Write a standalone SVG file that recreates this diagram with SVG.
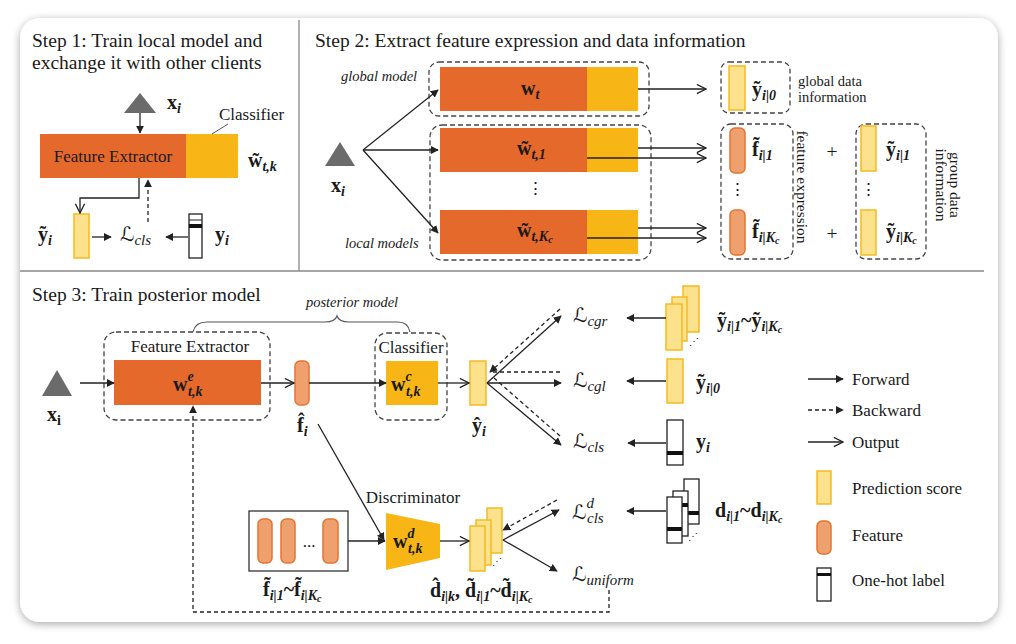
<svg xmlns="http://www.w3.org/2000/svg" width="1016" height="644" viewBox="0 0 1016 644">
<defs>
<filter id="sh" x="-5%" y="-5%" width="110%" height="110%">
<feGaussianBlur in="SourceAlpha" stdDeviation="4"/>
<feOffset dx="0" dy="2"/>
<feComponentTransfer><feFuncA type="linear" slope="0.35"/></feComponentTransfer>
<feMerge><feMergeNode/><feMergeNode in="SourceGraphic"/></feMerge>
</filter>
<marker id="fa" viewBox="0 0 10 10" refX="9" refY="5" markerWidth="8" markerHeight="8" markerUnits="userSpaceOnUse" orient="auto">
<path d="M0,0 L10,5 L0,10 Z" fill="#222"/>
</marker>
<marker id="oa" viewBox="0 0 12 12" refX="11" refY="6" markerWidth="11" markerHeight="11" markerUnits="userSpaceOnUse" orient="auto">
<path d="M1,1 L11,6 L1,11" fill="none" stroke="#222" stroke-width="1.4"/>
</marker>
</defs>
<style>
.t{font-family:"Liberation Serif","DejaVu Serif",serif;fill:#1a1a1a}
.h{font-size:19.5px}
.n{font-size:17px}
.s{font-size:14.5px}
.it{font-style:italic}
.mb{font-family:"Liberation Serif","DejaVu Serif",serif;font-weight:bold;font-size:20px;fill:#1a1a1a}
.sb{font-size:14px;font-style:italic;font-weight:bold}
.ss{font-size:10px;font-style:italic;font-weight:bold}
.L{font-family:"Liberation Serif","DejaVu Serif","DejaVu Sans",serif;font-style:italic;font-size:20px;fill:#1a1a1a}
.Ls{font-size:15px;font-style:italic}
.ln{stroke:#222;stroke-width:1.3;fill:none}
.dl{stroke:#222;stroke-width:1.3;fill:none;stroke-dasharray:4,3}
.db{stroke:#444;stroke-width:1.3;fill:none;stroke-dasharray:5,3}
.fe{fill:#E5692A}
.cl{fill:#F7B516}
.ps{fill:#FCE28C;stroke:#F5BA22;stroke-width:1.5}
.ft{fill:#EFA06F;stroke:#E5742F;stroke-width:1.5}
.oh{fill:#fff;stroke:#222;stroke-width:1.3}
.tri{fill:#6b6b6b}
</style>
<rect x="0" y="0" width="1016" height="644" fill="#ffffff"/>
<rect x="20" y="18" width="978" height="604" rx="20" fill="#ffffff" filter="url(#sh)"/>
<g id="dividers">
<line x1="20" y1="271" x2="984" y2="271" stroke="#888" stroke-width="1.3"/>
<line x1="299" y1="20" x2="299" y2="271" stroke="#888" stroke-width="1.3"/>
</g>

<!-- STEP 1 -->
<g id="step1-title">
<text class="t h" x="32" y="47">Step 1: Train local model and</text>
<text class="t h" x="32" y="69">exchange it with other clients</text>
</g>
<g id="s1-input">
<polygon class="tri" points="140,93 124,113 156,113"/>
<text class="mb" x="167" y="109">x<tspan class="sb" dy="4">i</tspan></text>
</g>
<g id="s1-model">
<rect class="fe" x="40" y="134" width="146" height="44"/>
<rect class="cl" x="186" y="134" width="52" height="44"/>
<text class="t n" x="113" y="162" text-anchor="middle">Feature Extractor</text>
<text class="t n" x="219" y="120">Classifier</text>
<line x1="212" y1="134" x2="228" y2="124" stroke="#555" stroke-width="1"/>
<text class="mb" x="248" y="167">w̃<tspan class="sb" dy="4">t,k</tspan></text>
</g>
<g id="s1-pred">
<rect class="ps" x="74" y="214" width="15" height="44"/>
<text class="mb" x="38" y="241">ỹ<tspan class="sb" dy="4">i</tspan></text>
</g>
<g id="s1-loss">
<text class="L" x="120" y="241">ℒ<tspan class="Ls" dy="4">cls</tspan></text>
</g>
<g id="s1-label">
<rect class="oh" x="189" y="214" width="13" height="44"/>
<line x1="189" y1="220" x2="202" y2="220" stroke="#222" stroke-width="1"/>
<rect x="189" y="224" width="13" height="4" fill="#111"/>
<text class="mb" x="215" y="241">y<tspan class="sb" dy="4">i</tspan></text>
</g>

<!-- STEP 2 -->
<g id="step2-title">
<text class="t h" x="315" y="47">Step 2: Extract feature expression and data information</text>
</g>
<g id="s2-input">
<polygon class="tri" points="340,142 325,166 355,166"/>
<text class="mb" x="331" y="192">x<tspan class="sb" dy="4">i</tspan></text>
</g>
<g id="s2-global">
<rect class="db" x="429" y="62" width="220" height="54" rx="10"/>
<rect class="fe" x="440" y="67" width="147" height="44"/>
<rect class="cl" x="587" y="67" width="51" height="44"/>
<text class="mb" x="521" y="95">w<tspan class="sb" dy="4">t</tspan></text>
<text class="t s it" x="341" y="81">global model</text>
</g>
<g id="s2-local">
<rect class="db" x="430" y="125" width="221" height="135" rx="12"/>
<rect class="fe" x="440" y="128" width="147" height="44"/>
<rect class="cl" x="587" y="128" width="51" height="44"/>
<rect class="fe" x="440" y="210" width="147" height="44"/>
<rect class="cl" x="587" y="210" width="51" height="44"/>
<text class="mb" x="517" y="155">w̃<tspan class="sb" dy="4">t,1</tspan></text>
<text class="mb" x="517" y="237">w̃<tspan class="sb" dy="4">t,K</tspan><tspan class="ss" dy="2">c</tspan></text>
<text class="t n" x="535" y="194" text-anchor="middle">⋮</text>
<text class="t s it" x="345" y="248">local models</text>
</g>
<g id="s2-global-data">
<rect class="db" x="721" y="62" width="69" height="51" rx="8"/>
<rect class="ps" x="729" y="66" width="16" height="44"/>
<text class="mb" x="752" y="96">ỹ<tspan class="sb" dy="4">i|0</tspan></text>
<text class="t s" x="798" y="86">global data</text>
<text class="t s" x="798" y="102">information</text>
</g>
<g id="s2-features">
<rect class="db" x="721" y="124" width="72" height="135" rx="10"/>
<rect class="ft" x="730" y="128" width="15" height="45" rx="5"/>
<rect class="ft" x="730" y="210" width="15" height="45" rx="5"/>
<text class="mb" x="752" y="156">f̃<tspan class="sb" dy="4">i|1</tspan></text>
<text class="mb" x="752" y="238">f̃<tspan class="sb" dy="4">i|K</tspan><tspan class="ss" dy="2">c</tspan></text>
<text class="t n" x="737" y="195" text-anchor="middle">⋮</text>
<text class="t" font-size="15.5" transform="translate(797,187) rotate(90)" text-anchor="middle">feature expression</text>
</g>
<g id="s2-plus">
<text class="t h" x="832" y="158" text-anchor="middle">+</text>
<text class="t h" x="832" y="240" text-anchor="middle">+</text>
</g>
<g id="s2-group-data">
<rect class="db" x="856" y="124" width="70" height="135" rx="10"/>
<rect class="ps" x="861" y="126" width="15" height="45"/>
<rect class="ps" x="861" y="210" width="15" height="45"/>
<text class="mb" x="886" y="156">ỹ<tspan class="sb" dy="4">i|1</tspan></text>
<text class="mb" x="886" y="238">ỹ<tspan class="sb" dy="4">i|K</tspan><tspan class="ss" dy="2">c</tspan></text>
<text class="t n" x="868" y="195" text-anchor="middle">⋮</text>
<text class="t" font-size="15.5" transform="translate(950,185) rotate(90)" text-anchor="middle">group data</text>
<text class="t" font-size="15.5" transform="translate(936,185) rotate(90)" text-anchor="middle">information</text>
</g>

<!-- STEP 3 -->
<g id="step3-title">
<text class="t h" x="32" y="301">Step 3: Train posterior model</text>
</g>
<g id="s3-brace">
<path d="M193,332 Q195,322 207,322 L325,322 Q335,322 337,316 Q339,322 349,322 L398,322 Q408,322 410,332" fill="none" stroke="#555" stroke-width="1.2"/>
<text class="t s it" x="352" y="307" text-anchor="middle">posterior model</text>
</g>
<g id="s3-input">
<polygon class="tri" points="57,370 42,396 72,396"/>
<text class="mb" x="47" y="421">x<tspan font-size="14px" font-weight="bold" dy="4">i</tspan></text>
</g>
<g id="s3-extractor">
<rect class="db" x="104" y="332" width="166" height="88" rx="12"/>
<text class="t n" x="190" y="352" text-anchor="middle">Feature Extractor</text>
<rect class="fe" x="114" y="360" width="147" height="45"/>
<text class="mb" x="173" y="391">w<tspan class="sb" dy="-10">e</tspan><tspan class="sb" x="188" dy="15">t,k</tspan></text>
</g>
<g id="s3-feature">
<rect class="ft" x="295" y="361" width="14" height="44" rx="5"/>
<text class="mb" x="297" y="432">f̂<tspan class="sb" dy="4">i</tspan></text>
</g>
<g id="s3-classifier">
<rect class="db" x="375" y="333" width="72" height="87" rx="12"/>
<text class="t n" x="411" y="353" text-anchor="middle">Classifier</text>
<rect class="cl" x="386" y="361" width="52" height="44"/>
<text class="mb" x="391" y="391">w<tspan class="sb" dy="-10">c</tspan><tspan class="sb" x="406" dy="15">t,k</tspan></text>
</g>
<g id="s3-pred">
<rect class="ps" x="470" y="361" width="16" height="44"/>
<text class="mb" x="472" y="432">ŷ<tspan class="sb" dy="4">i</tspan></text>
</g>
<g id="s3-losses">
<text class="L" x="573" y="322">ℒ<tspan class="Ls" dy="4">cgr</tspan></text>
<text class="L" x="573" y="387">ℒ<tspan class="Ls" dy="4">cgl</tspan></text>
<text class="L" x="573" y="448">ℒ<tspan class="Ls" dy="4">cls</tspan></text>
</g>
<g id="s3-group-scores">
<rect class="ps" x="683" y="286" width="16" height="46"/>
<rect class="ps" x="672" y="297" width="15" height="44"/>
<rect class="ps" x="666" y="304" width="16" height="46"/>
<text class="t" font-size="10" x="689" y="345">⋰</text>
<text class="mb" x="717" y="327">ỹ<tspan class="sb" dy="4">i|1</tspan><tspan dy="-4">~ỹ</tspan><tspan class="sb" dy="4">i|K</tspan><tspan class="ss" dy="2">c</tspan></text>
</g>
<g id="s3-global-score">
<rect class="ps" x="667" y="359" width="16" height="44"/>
<text class="mb" x="696" y="389">ỹ<tspan class="sb" dy="4">i|0</tspan></text>
</g>
<g id="s3-label">
<rect class="oh" x="667" y="420" width="16" height="45"/>
<rect x="667" y="451" width="16" height="4" fill="#111"/>
<text class="mb" x="696" y="448">y<tspan class="sb" dy="4">i</tspan></text>
</g>
<g id="s3-features-box">
<rect x="249" y="511" width="99" height="60" fill="#fff" stroke="#333" stroke-width="1.3"/>
<rect class="ft" x="258" y="519" width="14" height="44" rx="5"/>
<rect class="ft" x="281" y="519" width="14" height="44" rx="5"/>
<rect class="ft" x="323" y="519" width="15" height="44" rx="5"/>
<text class="t n" x="309" y="547" text-anchor="middle">...</text>
<text class="mb" x="263" y="596">f̃<tspan class="sb" dy="4">i|1</tspan><tspan dy="-4">~f̃</tspan><tspan class="sb" dy="4">i|K</tspan><tspan class="ss" dy="2">c</tspan></text>
</g>
<g id="s3-discriminator">
<text class="t n" x="413" y="503" text-anchor="middle">Discriminator</text>
<polygon class="cl" points="386,513 440,524 440,558 386,570"/>
<text class="mb" x="393" y="548">w<tspan class="sb" dy="-10">d</tspan><tspan class="sb" x="408" dy="15">t,k</tspan></text>
</g>
<g id="s3-domain-scores">
<rect class="ps" x="487" y="508" width="15" height="45"/>
<rect class="ps" x="476" y="520" width="15" height="45"/>
<rect class="ps" x="470" y="526" width="15" height="45"/>
<text class="t" font-size="10" x="492" y="565">⋰</text>
<text class="mb" x="430" y="597">d̂<tspan class="sb" dy="4">i|k</tspan><tspan dy="-4">, d̃</tspan><tspan class="sb" dy="4">i|1</tspan><tspan dy="-4">~d̃</tspan><tspan class="sb" dy="4">i|K</tspan><tspan class="ss" dy="2">c</tspan></text>
</g>
<g id="s3-dloss">
<text class="L" x="572" y="519">ℒ<tspan class="Ls" dy="-11">d</tspan><tspan class="Ls" x="587" dy="15">cls</tspan></text>
<text class="L" x="572" y="581">ℒ<tspan class="Ls" dy="4">uniform</tspan></text>
</g>
<g id="s3-domain-labels">
<rect class="oh" x="684" y="479" width="15" height="45"/>
<rect x="684" y="511" width="15" height="4" fill="#111"/>
<rect class="oh" x="673" y="491" width="15" height="45"/>
<rect x="673" y="503" width="15" height="4" fill="#111"/>
<rect class="oh" x="667" y="497" width="15" height="46"/>
<rect x="667" y="527" width="15" height="4" fill="#111"/>
<text class="t" font-size="10" x="688" y="540">⋰</text>
<text class="mb" x="715" y="517">d<tspan class="sb" dy="4">i|1</tspan><tspan dy="-4">~d</tspan><tspan class="sb" dy="4">i|K</tspan><tspan class="ss" dy="2">c</tspan></text>
</g>
<g id="legend">
<line class="ln" x1="808" y1="379" x2="843" y2="379" marker-end="url(#fa)"/>
<text class="t n" x="852" y="385">Forward</text>
<line class="dl" x1="808" y1="410" x2="843" y2="410" marker-end="url(#fa)"/>
<text class="t n" x="852" y="416">Backward</text>
<line class="ln" x1="808" y1="442" x2="843" y2="442" marker-end="url(#oa)"/>
<text class="t n" x="852" y="448">Output</text>
<rect class="ps" x="817" y="471" width="14" height="33"/>
<text class="t n" x="852" y="494">Prediction score</text>
<rect class="ft" x="817" y="521" width="14" height="33" rx="5"/>
<text class="t n" x="852" y="541">Feature</text>
<rect class="oh" x="817" y="568" width="14" height="33"/>
<rect x="817" y="573" width="14" height="3" fill="#111"/>
<text class="t n" x="852" y="586">One-hot label</text>
</g>

<g id="connectors">
<line class="ln" x1="140" y1="113" x2="140" y2="133" marker-end="url(#fa)"/>
<polyline class="ln" points="139,178 139,198 80,198 80,213" marker-end="url(#oa)"/>
<line class="dl" x1="148" y1="222" x2="148" y2="180" marker-end="url(#fa)"/>
<line class="ln" x1="92" y1="237" x2="111" y2="237" marker-end="url(#fa)"/>
<line class="ln" x1="188" y1="237" x2="166" y2="237" marker-end="url(#fa)"/>
<line class="ln" x1="363" y1="150" x2="438" y2="90" marker-end="url(#fa)"/>
<line class="ln" x1="363" y1="150" x2="438" y2="150" marker-end="url(#fa)"/>
<line class="ln" x1="363" y1="150" x2="438" y2="233" marker-end="url(#fa)"/>
<line class="ln" x1="638" y1="89" x2="706" y2="89" marker-end="url(#oa)"/>
<line class="ln" x1="638" y1="148" x2="706" y2="148" marker-end="url(#oa)"/>
<line class="ln" x1="587" y1="158" x2="706" y2="158" marker-end="url(#oa)"/>
<line class="ln" x1="638" y1="228" x2="706" y2="228" marker-end="url(#oa)"/>
<line class="ln" x1="587" y1="238" x2="706" y2="238" marker-end="url(#oa)"/>
<line class="ln" x1="80" y1="383" x2="114" y2="383" marker-end="url(#fa)"/>
<line class="ln" x1="261" y1="383" x2="294" y2="383" marker-end="url(#oa)"/>
<line class="ln" x1="309" y1="383" x2="386" y2="383" marker-end="url(#fa)"/>
<line class="ln" x1="438" y1="383" x2="469" y2="383" marker-end="url(#oa)"/>
<line class="ln" x1="487" y1="383" x2="561" y2="316" marker-end="url(#fa)"/>
<line class="ln" x1="487" y1="383" x2="561" y2="383" marker-end="url(#fa)"/>
<line class="ln" x1="487" y1="383" x2="561" y2="445" marker-end="url(#fa)"/>
<line class="dl" x1="560" y1="309" x2="490" y2="372" marker-end="url(#fa)"/>
<line class="dl" x1="560" y1="372" x2="492" y2="372"/>
<line class="dl" x1="560" y1="436" x2="494" y2="378"/>
<line class="ln" x1="666" y1="318" x2="627" y2="318" marker-end="url(#fa)"/>
<line class="ln" x1="666" y1="381" x2="627" y2="381" marker-end="url(#fa)"/>
<line class="ln" x1="666" y1="443" x2="628" y2="443" marker-end="url(#fa)"/>
<line class="ln" x1="318" y1="424" x2="384" y2="540" marker-end="url(#fa)"/>
<line class="ln" x1="348" y1="541" x2="385" y2="541" marker-end="url(#fa)"/>
<line class="ln" x1="440" y1="541" x2="469" y2="541" marker-end="url(#oa)"/>
<line class="ln" x1="503" y1="540" x2="559" y2="510" marker-end="url(#fa)"/>
<line class="ln" x1="503" y1="540" x2="557" y2="571" marker-end="url(#fa)"/>
<line class="dl" x1="557" y1="500" x2="503" y2="530" marker-end="url(#fa)"/>
<line class="ln" x1="666" y1="511" x2="627" y2="511" marker-end="url(#fa)"/>
<polyline class="dl" points="609,590 609,612 193,612 193,406" marker-end="url(#fa)"/>
</g>
</svg>
